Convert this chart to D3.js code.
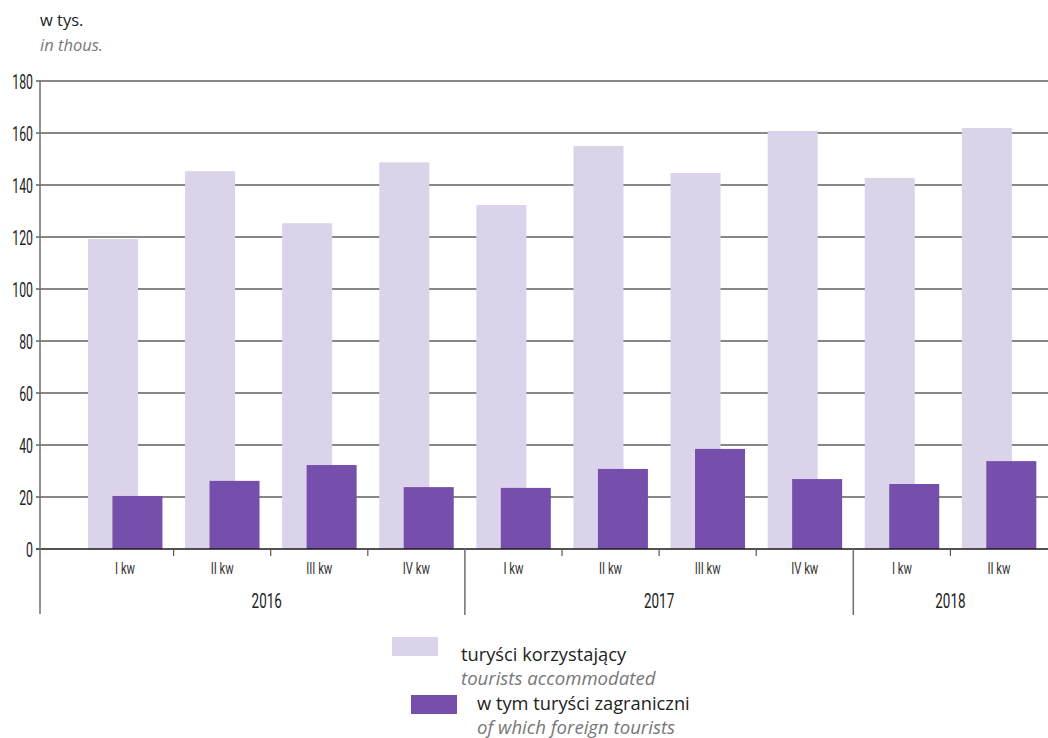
<!DOCTYPE html>
<html><head><meta charset="utf-8">
<script src="https://cdn.jsdelivr.net/npm/d3@7"></script>
<style>
body{margin:0;background:#fff;}
svg{display:block;}
.narrow{font-family:Roboto,"Noto Sans",sans-serif;}
.reg{font-family:"Open Sans","Noto Sans",sans-serif;}
</style></head>
<body>
<script>
const quarters = ["I kw","II kw","III kw","IV kw","I kw","II kw","III kw","IV kw","I kw","II kw"];
const years = ["2016","2016","2016","2016","2017","2017","2017","2017","2018","2018"];
const yearLabels = ["2016","2017","2018"];
const touristsAccommodated = [119.2,145.3,125.3,148.7,132.3,155.0,144.6,160.8,142.7,161.9];
const foreignTourists = [20.4,26.2,32.3,23.8,23.5,30.8,38.5,26.9,25.0,33.8];
const yTicks = [0,20,40,60,80,100,120,140,160,180];

const W=1048,H=738;
const svg=d3.select("body").append("svg").attr("width",W).attr("height",H);
const axisX=40, plotRight=1048, y0=549, yTop=81;
const idx=d3.range(quarters.length);
const x=d3.scaleBand().domain(idx).range([76.5,1047.5]).paddingInner(0).paddingOuter(0);
const y=d3.scaleLinear().domain([0,180]).range([y0,yTop]);

function ctext(g,tx,ty,size,sx,anchor,fill,txt){
  return g.append("text").attr("class","narrow")
    .attr("transform",`translate(${tx},${ty}) scale(${sx},1)`)
    .attr("text-anchor",anchor).attr("font-size",size).attr("fill",fill).text(txt);
}

// gridlines
const grid=svg.append("g");
grid.selectAll("line").data(yTicks.filter(d=>d>0)).join("line")
  .attr("x1",axisX-4).attr("x2",plotRight).attr("y1",d=>y(d)).attr("y2",d=>y(d))
  .attr("stroke","#878787").attr("stroke-width",2);

const bw=x.bandwidth();
const barW=bw*0.515;
// light bars
svg.append("g").selectAll("rect").data(idx).join("rect")
  .attr("x",i=>x(i)+bw*0.118).attr("width",barW)
  .attr("y",i=>y(touristsAccommodated[i])).attr("height",i=>y0-y(touristsAccommodated[i]))
  .attr("fill","#dbd3ea");
// dark bars
svg.append("g").selectAll("rect").data(idx).join("rect")
  .attr("x",i=>x(i)+bw*0.37).attr("width",barW)
  .attr("y",i=>y(foreignTourists[i])).attr("height",i=>y0-y(foreignTourists[i]))
  .attr("fill","#754fab");

// baseline
svg.append("line").attr("x1",axisX-4).attr("x2",plotRight).attr("y1",y0).attr("y2",y0)
  .attr("stroke","#1a1a1a").attr("stroke-width",1.5);
// y axis line
svg.append("line").attr("x1",axisX).attr("x2",axisX).attr("y1",yTop).attr("y2",614)
  .attr("stroke","#6e6e6e").attr("stroke-width",1.5);

// y tick labels
const yl=svg.append("g");
yTicks.forEach(d=>ctext(yl,33,y(d)+7.5,20.5,0.6,"end","#222",d));

// category ticks and separators
idx.slice(1).forEach(i=>{
  const bx=x(i);
  const sep=years[i]!==years[i-1];
  svg.append("line").attr("x1",bx).attr("x2",bx).attr("y1",y0).attr("y2",sep?615:556)
    .attr("stroke",sep?"#6e6e6e":"#555").attr("stroke-width",sep?1.5:1.2);
});
// quarter labels
const ql=svg.append("g");
idx.forEach(i=>ctext(ql,x(i)+bw/2,573.5,17,0.66,"middle","#333",quarters[i]));
// year labels
const yrg=svg.append("g");
yearLabels.forEach(yr=>{
  const ii=idx.filter(i=>years[i]===yr);
  let a=x(ii[0]), b=x(ii[ii.length-1])+bw;
  let cx=(a+b)/2; if(yr==="2016") cx-=4;
  ctext(yrg,cx,608,19.5,0.69,"middle","#222",yr);
});

// titles
svg.append("text").attr("class","reg").attr("x",40).attr("y",26).attr("font-size",16.5).attr("fill","#222").text("w tys.");
svg.append("text").attr("class","reg").attr("x",40).attr("y",51).attr("font-size",16.5).attr("font-style","italic").attr("fill","#777").text("in thous.");

// legend
const lg=svg.append("g");
lg.append("rect").attr("x",392).attr("y",637).attr("width",46).attr("height",19).attr("fill","#dbd3ea");
lg.append("text").attr("class","reg").attr("x",461).attr("y",661).attr("font-size",18.3).attr("fill","#222").text("turyści korzystający");
lg.append("text").attr("class","reg").attr("x",461).attr("y",685).attr("font-size",18.6).attr("font-style","italic").attr("fill","#777").text("tourists accommodated");
lg.append("rect").attr("x",411).attr("y",695).attr("width",46).attr("height",19).attr("fill","#754fab");
lg.append("text").attr("class","reg").attr("x",477).attr("y",710).attr("font-size",18.3).attr("fill","#222").text("w tym turyści zagraniczni");
lg.append("text").attr("class","reg").attr("x",477).attr("y",734).attr("font-size",18.6).attr("font-style","italic").attr("fill","#777").text("of which foreign tourists");
</script>
</body></html>
